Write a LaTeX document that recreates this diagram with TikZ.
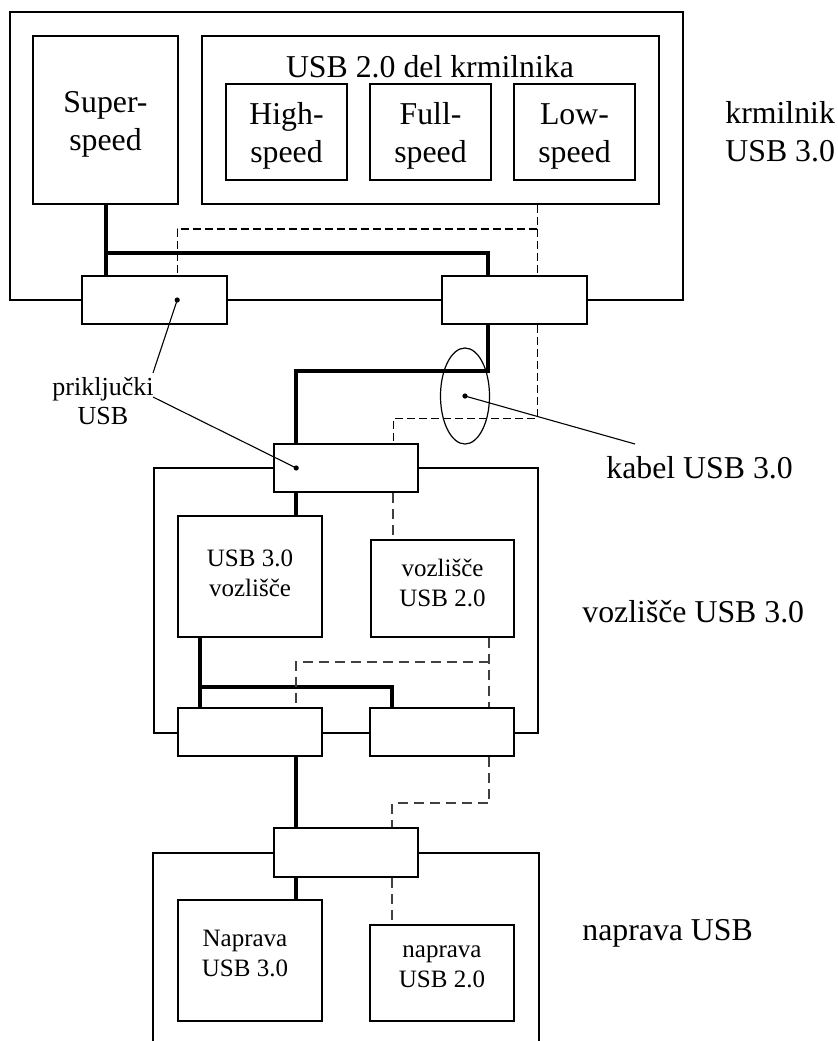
\documentclass[tikz,border=0pt]{standalone}
\usepackage{fontspec}
\setmainfont{Liberation Serif}
\usetikzlibrary{calc,fit,shapes.geometric}
\newcommand\lblfont{\fontsize{15.9}{19}\selectfont}
\newcommand\smlfont{\fontsize{12.5}{15}\selectfont}
\newcommand\pfont{\fontsize{13}{14.5}\selectfont}
\begin{document}
\begin{tikzpicture}[x=0.5pt,y=-0.5pt,
  frame/.style={draw,line width=0.8pt,inner sep=0pt},
  unit/.style={draw,line width=0.8pt,fill=white,inner sep=0pt},
  port/.style={draw,line width=0.8pt,fill=white,inner sep=0pt},
  bus/.style={line width=2pt},
  bus2/.style={line width=0.7pt,dash pattern=on 4pt off 2pt},
  bus2g/.style={line width=1pt,black!75,dash pattern=on 5pt off 3pt},
  lead/.style={line width=0.55pt},
  tip/.style={circle,fill,inner sep=0pt,minimum size=2.6pt},
  lbl/.style={font=\lblfont,align=center,inner sep=0pt},
  sml/.style={font=\smlfont,align=center,inner sep=0pt},
]
\useasboundingbox (0,0) rectangle (838,1041);

% ---- USB 3.0 host controller ----
\node[frame,fit={(10,12) (683,300)}] (ctrl) {};
\node[unit,fit={(33,36) (178,204)}] (ss) {};
\node[frame,fit={(202,36) (659,204)}] (u2) {};
\node[unit,fit={(226,84) (347,180)}] (hs) {};
\node[unit,fit={(370,84) (491,180)}] (fs) {};
\node[unit,fit={(514,84) (635,180)}] (ls) {};
\node[port,fit={(82,276) (227,324)}] (p1) {};
\node[port,fit={(442,276) (587,324)}] (p2) {};
\node[lbl] (sst) at ($(ss.center)+(0,4)$) {Super-\\speed};
\node[lbl] (u2t) at (430,67) {USB 2.0 del krmilnika};
\node[lbl] (hst) at ($(hs.center)+(0,4)$) {High-\\speed};
\node[lbl] (fst) at ($(fs.center)+(0,4)$) {Full-\\speed};
\node[lbl] (lst) at ($(ls.center)+(0,4)$) {Low-\\speed};

% ---- USB 3.0 hub ----
\node[frame,fit={(154,468) (538,733)}] (hub) {};
\node[port,fit={(274,444) (418,492)}] (hp) {};
\node[unit,fit={(178,516) (322,637)}] (u3h) {};
\node[unit,fit={(371,540) (514,637)}] (v2h) {};
\node[port,fit={(178,708) (322,756)}] (pa) {};
\node[port,fit={(370,708) (514,756)}] (pb) {};
\node[sml] (u3ht) at ($(u3h.center)+(0,-3)$) {USB 3.0\\vozlišče};
\node[sml] (v2ht) at ($(v2h.center)+(0,-6)$) {vozlišče\\USB 2.0};

% ---- USB device ----
\node[frame,fit={(153,853) (539,1100)}] (dev) {};
\node[port,fit={(274,828) (418,877)}] (dp) {};
\node[unit,fit={(178,900) (322,1021)}] (d3) {};
\node[unit,fit={(370,925) (514,1021)}] (d2) {};
\node[sml] (d3t) at ($(d3.center)+(-5,-7)$) {Naprava\\USB 3.0};
\node[sml] (d2t) at ($(d2.center)+(0,-6)$) {naprava\\USB 2.0};

% ---- cable ----
\node[ellipse,draw,line width=0.6pt,inner sep=0pt,minimum width=24.5pt,minimum height=48pt] (cab) at (465,396) {};

% ---- side labels ----
\node[lbl,anchor=west] (ctl) at (725,132) {krmilnik\\USB 3.0};
\node[lbl,anchor=west] (kab) at (606,468) {kabel USB 3.0};
\node[lbl,anchor=west] (hubl) at (582,612) {vozlišče USB 3.0};
\node[lbl,anchor=west] (devl) at (582,933) {naprava USB};
\node[align=center,inner sep=0pt,font=\pfont] (prk) at (103,401) {priključki\\USB};

% ---- controller buses ----
\draw[bus] (ss.south) -- (ss.south |- p1.north);
\coordinate (j1) at ($(ss.south)+(0,48)$);
\coordinate (p2a) at ($(p2.north west)+(47,0)$);
\draw[bus] (j1) -| (p2a);
\coordinate (u2d) at ($(u2.south west)+(336,0)$);
\draw[bus2] (u2d) -- (u2d |- p2.north);
\coordinate (p1b) at ($(p1.north west)+(96,0)$);
\draw[bus2] ($(u2d)+(0,24)$) -| (p1b);

% ---- cable to hub ----
\coordinate (p2c) at ($(p2.south west)+(47,0)$);
\coordinate (hpa) at ($(hp.north west)+(23,0)$);
\draw[bus] (p2c) |- ($(hpa)+(0,-72)$) -- (hpa);
\coordinate (p2d) at ($(p2.south west)+(96,0)$);
\coordinate (hpb) at ($(hp.north west)+(120,0)$);
\draw[bus2] (p2d) |- ($(hpb)+(0,-25)$) -- (hpb);

% ---- hub buses ----
\coordinate (hpA) at ($(hp.south west)+(23,0)$);
\draw[bus] (hpA) -- (hpA |- u3h.north);
\coordinate (hpB) at ($(hp.south west)+(120,0)$);
\draw[bus2g] (hpB) -- (hpB |- v2h.north);
\coordinate (u3b) at ($(u3h.south west)+(23,0)$);
\draw[bus] (u3b) -- (u3b |- pa.north);
\coordinate (pbA) at ($(pb.north west)+(23,0)$);
\draw[bus] ($(u3b)+(0,49)$) -| (pbA);
\coordinate (v2b) at ($(v2h.south west)+(119,0)$);
\draw[bus2g] (v2b) -- (v2b |- pb.north);
\coordinate (paB) at ($(pa.north west)+(119,0)$);
\draw[bus2g] ($(v2b)+(0,24)$) -| (paB);

% ---- hub to device ----
\coordinate (paS) at ($(pa.south west)+(119,0)$);
\draw[bus] (paS) -- (paS |- dp.north);
\coordinate (pbS) at ($(pb.south west)+(120,0)$);
\coordinate (dpB) at ($(dp.north west)+(119,0)$);
\draw[bus2g] (pbS) |- ($(dpB)+(0,-24)$) -- (dpB);
\coordinate (dpA) at ($(dp.south west)+(23,0)$);
\draw[bus] (dpA) -- (dpA |- d3.north);
\coordinate (dpS) at ($(dp.south west)+(119,0)$);
\draw[bus2g] (dpS) -- (dpS |- d2.north);

% ---- pointers ----
\node[tip] (t1) at ($(p1.west)+(96,0)$) {};
\node[tip] (t2) at ($(hp.west)+(23,0)$) {};
\node[tip] (t3) at (cab.center) {};
\coordinate (prk1) at (153,373);
\coordinate (prk2) at (153,397);
\coordinate (kabtip) at (635,444);
\draw[lead] (t1.center) -- (prk1);
\draw[lead] (prk2) -- (t2.center);
\draw[lead] (t3.center) -- (kabtip);
\end{tikzpicture}
\end{document}
